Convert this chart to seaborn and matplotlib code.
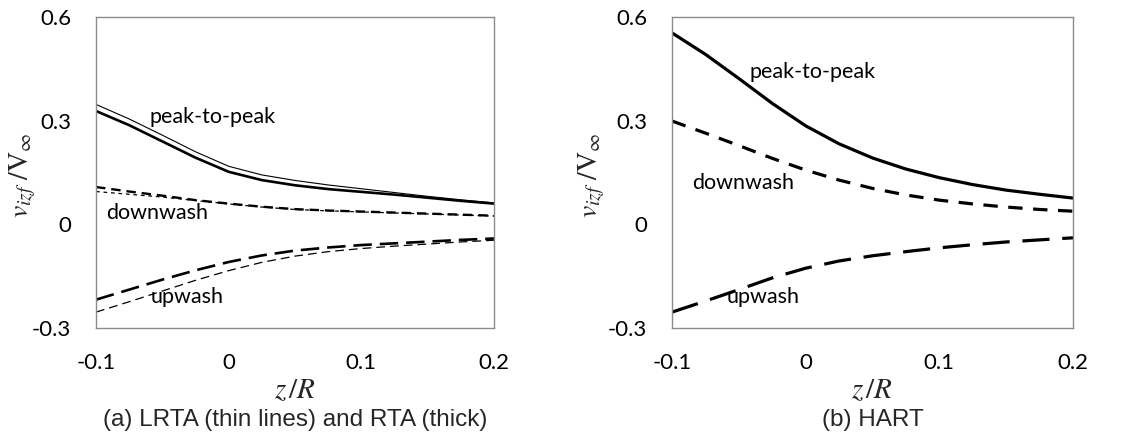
import numpy as np
import pandas as pd
import matplotlib
matplotlib.use("Agg")
import matplotlib.pyplot as plt
import seaborn as sns

# ---- data ----
z = [-0.1, -0.075, -0.05, -0.025, 0.0, 0.025, 0.05, 0.075, 0.1, 0.125, 0.15, 0.175, 0.2]

# (a) LRTA thin lines
lrta_peak = [0.347, 0.305, 0.258, 0.210, 0.168, 0.143, 0.127, 0.114, 0.103, 0.092, 0.081, 0.071, 0.062]
lrta_down = [0.095, 0.087, 0.079, 0.069, 0.059, 0.050, 0.043, 0.039, 0.036, 0.033, 0.030, 0.027, 0.024]
lrta_up = [-0.254, -0.224, -0.193, -0.162, -0.134, -0.110, -0.092, -0.079, -0.070, -0.063, -0.057, -0.051, -0.046]
# (a) RTA thick lines
rta_peak = [0.328, 0.287, 0.240, 0.193, 0.152, 0.128, 0.113, 0.102, 0.094, 0.086, 0.077, 0.068, 0.060]
rta_down = [0.108, 0.095, 0.083, 0.070, 0.060, 0.051, 0.044, 0.040, 0.037, 0.034, 0.031, 0.028, 0.025]
rta_up = [-0.218, -0.189, -0.160, -0.133, -0.109, -0.090, -0.076, -0.067, -0.060, -0.055, -0.050, -0.045, -0.041]

# (b) HART
hart_peak = [0.554, 0.492, 0.422, 0.350, 0.285, 0.233, 0.192, 0.160, 0.135, 0.115, 0.099, 0.087, 0.076]
hart_down = [0.299, 0.264, 0.228, 0.191, 0.157, 0.128, 0.104, 0.085, 0.070, 0.059, 0.050, 0.043, 0.038]
hart_up = [-0.254, -0.222, -0.189, -0.155, -0.127, -0.106, -0.091, -0.079, -0.068, -0.059, -0.051, -0.045, -0.039]

xticks = [-0.1, 0.0, 0.1, 0.2]
xtick_labels = ["-0.1", "0", "0.1", "0.2"]
yticks = [-0.3, 0.0, 0.3, 0.6]
ytick_labels = ["-0.3", "0", "0.3", "0.6"]

captions = ["(a) LRTA (thin lines) and RTA (thick)", "(b) HART"]
series_labels = ["peak-to-peak", "downwash", "upwash"]

# ---- style ----
sns.set_style("white")
plt.rcParams["font.family"] = ["Lato", "DejaVu Sans"]
plt.rcParams["mathtext.fontset"] = "stix"

fig = plt.figure(figsize=(11.47, 4.43), dpi=100)
ax1 = fig.add_axes([0.0837, 0.2596, 0.347, 0.702])
ax2 = fig.add_axes([0.5859, 0.2596, 0.3496, 0.702])

frame_col = "#8c8c8c"


def line(ax, y, lw, ls):
    df = pd.DataFrame({"z": z, "v": y})
    sns.lineplot(data=df, x="z", y="v", ax=ax, color="black", linewidth=lw,
                 linestyle=ls, solid_capstyle="butt", dash_capstyle="butt")


# panel (a)
line(ax1, lrta_peak, 0.8, "-")
line(ax1, rta_peak, 1.9, "-")
line(ax1, lrta_down, 0.9, (0, (3, 3)))
line(ax1, rta_down, 1.7, (0, (4, 2.5)))
line(ax1, lrta_up, 0.9, (0, (7, 4)))
line(ax1, rta_up, 1.9, (0, (7, 3)))

# panel (b)
line(ax2, hart_peak, 2.3, "-")
line(ax2, hart_down, 2.3, (0, (4.5, 3.3)))
line(ax2, hart_up, 2.3, (0, (8.5, 4)))

label_pos_a = [(-0.060, 0.31), (-0.092, 0.032), (-0.059, -0.211)]
label_pos_b = [(-0.042, 0.44), (-0.085, 0.119), (-0.059, -0.211)]

for ax, pos, cap, ylx in [(ax1, label_pos_a, captions[0], -0.146),
                          (ax2, label_pos_b, captions[1], -0.162)]:
    ax.set_xlim(-0.1, 0.2)
    ax.set_ylim(-0.3, 0.6)
    ax.set_xticks(xticks)
    ax.set_xticklabels(xtick_labels)
    ax.set_yticks(yticks)
    ax.set_yticklabels(ytick_labels)
    ax.tick_params(axis="both", which="major", direction="out", length=6, width=1,
                   color=frame_col, labelsize=16, labelcolor="black")
    ax.tick_params(axis="y", pad=12)
    ax.tick_params(axis="x", pad=12)
    for s in ax.spines.values():
        s.set_visible(True)
        s.set_color(frame_col)
        s.set_linewidth(1.0)
    ax.set_xlabel(r"$z\,/R$", fontsize=21, labelpad=3)
    ax.set_ylabel(r"$v_{izf}\ /\mathrm{V}_{\infty}$", fontsize=20)
    ax.yaxis.set_label_coords(ylx, 0.49)
    for (tx, ty), t in zip(pos, series_labels):
        ax.text(tx, ty, t, fontsize=15.5, ha="left", va="center", color="black")
    ax.text(0.5, -0.295, cap, transform=ax.transAxes, ha="center", va="center",
            fontsize=17.5, family=["Liberation Sans", "DejaVu Sans"])

fig.savefig("out.png", dpi=100)
